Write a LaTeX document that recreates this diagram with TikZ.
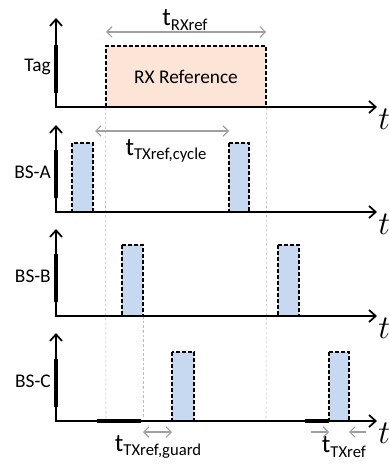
\documentclass[tikz,border=0pt]{standalone}
\usepackage{fontspec}
\setmainfont{Carlito}
\usetikzlibrary{arrows.meta}
\definecolor{PulseClr}{RGB}{198,217,241}
\definecolor{RefClr}{RGB}{252,228,214}
\definecolor{SpanClr}{RGB}{160,160,160}
\definecolor{GuideClr}{RGB}{190,190,190}
\newcommand{\tdur}[1]{{\fontsize{19}{20}\selectfont t}\raisebox{-0.45ex}{\fontsize{12.5}{13}\selectfont #1}}

\begin{document}
\begin{tikzpicture}[x=0.75pt,y=-0.75pt,
  axis/.style={line width=1.5pt,line join=miter,
    {Straight Barb[length=5pt,width=9pt,line width=1.3pt]}-{Straight Barb[length=5pt,width=9pt,line width=1.3pt]}},
  pulse/.style={fill=PulseClr,draw=black,line width=1.1pt,dash pattern=on 3pt off 1.5pt},
  guide/.style={GuideClr,line width=0.4pt,dash pattern=on 2pt off 1.5pt},
  span/.style={SpanClr,line width=0.8pt,
    {Straight Barb[length=4pt,width=8pt]}-{Straight Barb[length=4pt,width=8pt]}},
  lbl/.style={font=\fontsize{14.5}{16}\selectfont,inner sep=0pt},
  tlbl/.style={font=\fontsize{24}{24}\selectfont,anchor=north west,inner sep=0pt}]
\useasboundingbox (0,0) rectangle (388,466);

% RX reference window of the tag
\node[draw=black,fill=RefClr,line width=1.1pt,dash pattern=on 3pt off 1.5pt,
  minimum width=120pt,minimum height=45.75pt,lbl] (rxref) at (186,76.5) {RX Reference};

% TX reference pulses
\draw[pulse] (72,143) rectangle (93,212);
\draw[pulse] (229,143) rectangle (249,212);
\draw[pulse] (122,245) rectangle (143,316);
\draw[pulse] (278,245) rectangle (299,316);
\draw[pulse] (172,352) rectangle (194,421);
\draw[pulse] (329,352) rectangle (349,421);

% guides
\coordinate (g1) at (106,420);
\coordinate (g2) at (266,420);
\coordinate (g3t) at (143,316);
\coordinate (g3) at (143,418);
\draw[guide] (rxref.south west) -- (g1);
\draw[guide] (rxref.south east) -- (g2);
\draw[guide] (g3t) -- (g3);

% axes
\foreach \n/\ytop/\base/\txt in {tag/18/107/Tag,bsa/125/212/BS-A,bsb/229/316/BS-B,bsc/333/421/BS-C}{
  \coordinate (\n-o) at (56,\base);
  \coordinate (\n-y) at (56,\ytop);
  \coordinate (\n-x) at (377,\base);
  \draw[axis] (\n-y) -- (\n-o) -- (\n-x);
  \draw[line width=2.6pt] (56,\base-62) -- (56,\base-14);
  \node[lbl,anchor=east] (\n-lbl) at (51,\base-40) {\txt};
  \node[tlbl] (\n-t) at (378,\base+2) {$t$};
}
\draw[line width=2.6pt] (97,421) -- (141,421);
\draw[line width=2.6pt] (305,421) -- (329,421);

% durations
\coordinate (rx-l) at (106,32);
\coordinate (rx-r) at (266,32);
\draw[span] (rx-l) -- (rx-r);
\node[lbl] (rx-lbl) at (185,20) {\tdur{RXref}};

\coordinate (cy-l) at (95,131);
\coordinate (cy-r) at (229,131);
\draw[span] (cy-l) -- (cy-r);
\node[lbl] (cy-lbl) at (166,151) {\tdur{TXref,cycle}};

\coordinate (gd-l) at (143,432);
\coordinate (gd-r) at (172,432);
\draw[span] (gd-l) -- (gd-r);
\node[lbl] (gd-lbl) at (158,447) {\tdur{TXref,guard}};

\coordinate (tx-a) at (311,432);
\coordinate (tx-b) at (329,432);
\coordinate (tx-c) at (366,432);
\coordinate (tx-d) at (349,432);
\draw[span,-{Straight Barb[length=4pt,width=8pt]}] (tx-a) -- (tx-b);
\draw[span,-{Straight Barb[length=4pt,width=8pt]}] (tx-c) -- (tx-d);
\node[lbl] (tx-lbl) at (344,447) {\tdur{TXref}};
\end{tikzpicture}
\end{document}
